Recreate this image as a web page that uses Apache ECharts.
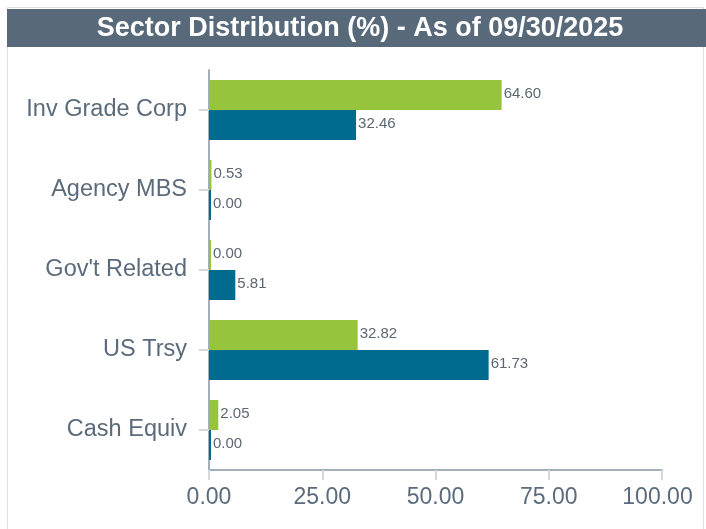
<!DOCTYPE html>
<html>
<head>
<meta charset="utf-8">
<script src="https://cdn.jsdelivr.net/npm/echarts@6/dist/echarts.min.js"></script>
<style>
  html, body { margin: 0; padding: 0; background: #fff; }
  #chart { width: 706px; height: 529px; }
</style>
</head>
<body>
<div id="chart"></div>
<script>
// Sector weights (%) for the fund and its benchmark
const categories = ['Inv Grade Corp', 'Agency MBS', "Gov't Related", 'US Trsy', 'Cash Equiv'];
const fundValues = [64.60, 0.53, 0.00, 32.82, 2.05];
const benchmarkValues = [32.46, 0.00, 5.81, 61.73, 0.00];
const xTicks = [0, 25, 50, 75, 100];

const textColor = '#5b6b7b';
const fontFamily = '"Liberation Sans", Arial, sans-serif';
const chart = echarts.init(document.getElementById('chart'));

const labelStyle = {
  show: true,
  position: 'right',
  distance: 2,
  offset: [0, -1],
  color: '#5b6874',
  fontSize: 15,
  fontFamily: fontFamily,
  formatter: p => p.value.toFixed(2)
};

const xMax = xTicks[xTicks.length - 1];

chart.setOption({
  animation: false,
  graphic: [
    { type: 'rect', shape: { x: 7.5, y: 7.5, width: 696, height: 530 },
      style: { fill: 'none', stroke: '#dcdfe3', lineWidth: 1 }, z: 0 },
    { type: 'rect', shape: { x: 7, y: 9, width: 699, height: 38 },
      style: { fill: '#586a7a' }, z: 1 },
    { type: 'text', x: 360, y: 29, z: 2,
      style: { text: 'Sector Distribution (%) - As of 09/30/2025', fill: '#ffffff',
        font: 'bold 27px ' + fontFamily,
        textAlign: 'center', textVerticalAlign: 'middle' } }
  ],
  grid: { left: 209, top: 70, width: 453, height: 400, containLabel: false },
  xAxis: {
    type: 'value',
    min: xTicks[0], max: xMax, interval: 25,
    axisLine: { show: true, lineStyle: { color: '#a3afbb', width: 2 } },
    axisTick: { show: true, length: 10, lineStyle: { color: '#d5d8dc', width: 2 } },
    splitLine: { show: false },
    axisLabel: {
      color: textColor, fontSize: 23, margin: 16,
      fontFamily: fontFamily,
      formatter: v => v === xMax ? '{last|' + v.toFixed(2) + '}' : v.toFixed(2),
      rich: {
        last: { color: textColor, fontSize: 23, fontFamily: fontFamily, padding: [0, 9, 0, 0] }
      }
    }
  },
  yAxis: {
    type: 'category',
    data: categories,
    inverse: true,
    axisLine: { show: true, lineStyle: { color: '#a3afbb', width: 2 } },
    axisTick: { show: true, alignWithLabel: true, length: 10, lineStyle: { color: '#d5d8dc', width: 2 } },
    axisLabel: {
      color: textColor, fontSize: 23.5, margin: 22,
      fontFamily: fontFamily
    }
  },
  series: [
    {
      name: 'Fund', type: 'bar', data: fundValues,
      barWidth: 30, barGap: '0%', barMinHeight: 2,
      itemStyle: { color: '#97c43d' },
      label: labelStyle
    },
    {
      name: 'Benchmark', type: 'bar', data: benchmarkValues,
      barWidth: 30, barGap: '0%', barMinHeight: 2,
      itemStyle: { color: '#006a8f' },
      label: labelStyle
    }
  ]
});
</script>
</body>
</html>
